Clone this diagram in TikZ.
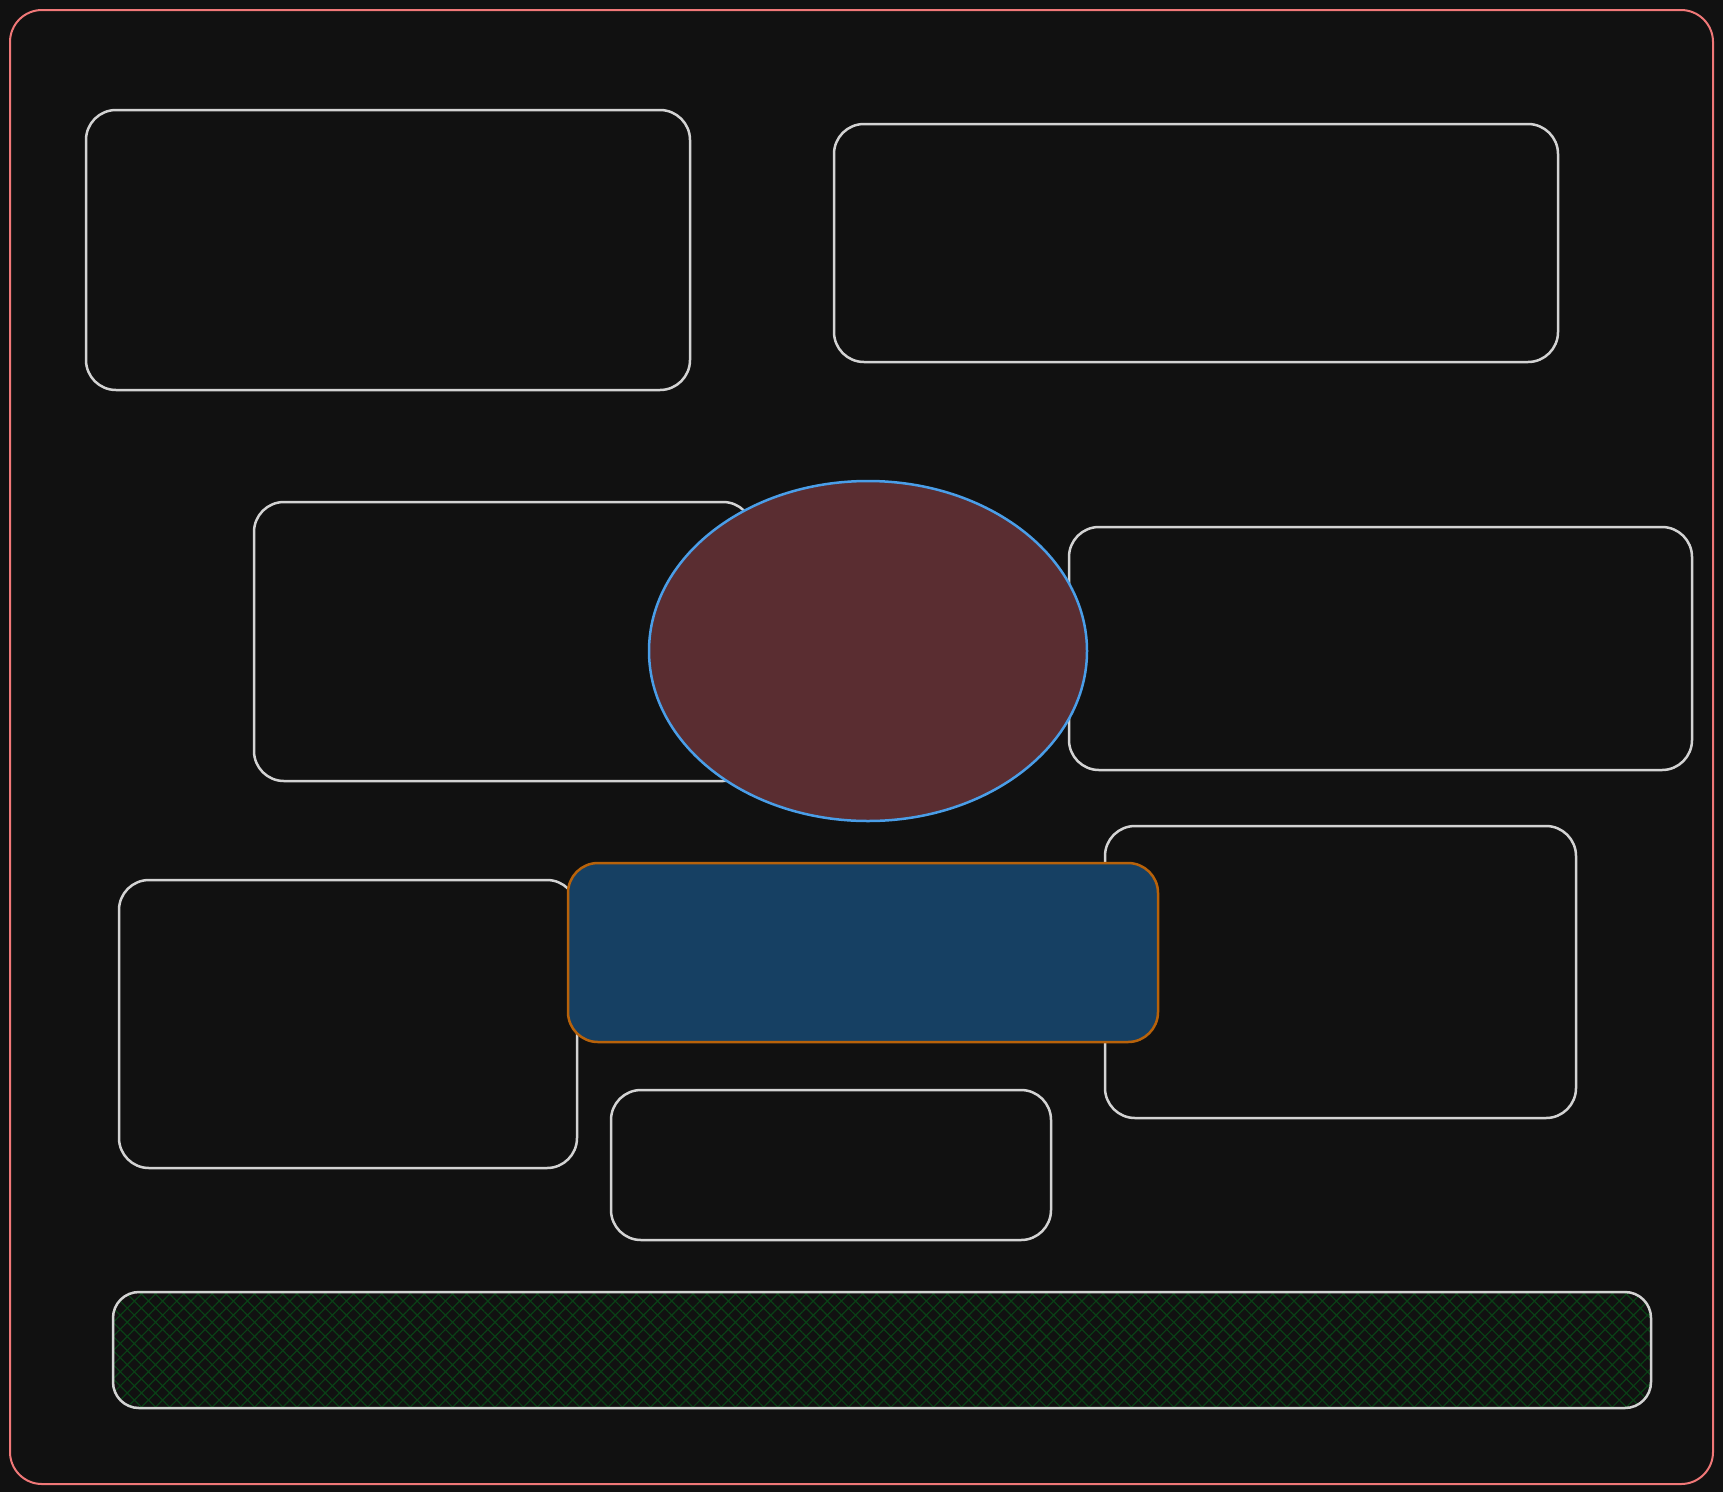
\documentclass[tikz,border=0pt]{standalone}
\usepackage{tikz}
\usetikzlibrary{shapes.geometric,patterns.meta}

\definecolor{canvas}{HTML}{111111}
\definecolor{outline}{HTML}{D3D3D3}
\definecolor{frameline}{HTML}{F07878}
\definecolor{bubble}{HTML}{5A2D31}
\definecolor{bubbleline}{HTML}{4A9EE8}
\definecolor{panel}{HTML}{164063}
\definecolor{panelline}{HTML}{B8620A}
\definecolor{hatchgreen}{HTML}{0A4016}

\tikzset{
  box/.style={draw=outline,line width=2.5pt,rectangle,rounded corners=30pt,fill=canvas},
  frame/.style={draw=frameline,line width=2pt,rectangle,rounded corners=32pt},
  bubble/.style={draw=bubbleline,line width=2.5pt,ellipse,fill=bubble},
  panel/.style={draw=panelline,line width=2.5pt,rectangle,rounded corners=30pt,fill=panel},
  band/.style={draw=outline,line width=2.5pt,rectangle,rounded corners=26pt,
    pattern={Hatch[angle=45,distance=10pt,line width=1.2pt]},pattern color=hatchgreen}
}

\begin{document}
\begin{tikzpicture}[x=1pt,y=-1pt]
    \fill[canvas] (0,0) rectangle (1723,1492);
    \useasboundingbox (0,0) rectangle (1723,1492);

    \node[frame,minimum width=1703pt,minimum height=1474pt] (frame) at (861.5,747) {};

    % outlined boxes
    \node[box,minimum width=604pt,minimum height=280pt] (topleft) at (388,250) {};
    \node[box,minimum width=724pt,minimum height=238pt] (topright) at (1196,243) {};
    \node[box,minimum width=499pt,minimum height=279pt] (midleft) at (503.5,641.5) {};
    \node[box,minimum width=623pt,minimum height=243pt] (midright) at (1380.5,648.5) {};
    \node[box,minimum width=471pt,minimum height=292pt] (lowright) at (1340.5,972) {};
    \node[box,minimum width=458pt,minimum height=288pt] (lowleft) at (348,1024) {};
    \node[box,minimum width=440pt,minimum height=150pt] (lowmid) at (831,1165) {};

    % filled shapes on top
    \node[bubble,minimum width=438pt,minimum height=340pt,inner sep=0pt] (centre) at (868,651) {};
    \node[panel,minimum width=590pt,minimum height=179pt] (core) at (863,952.5) {};
    \node[band,minimum width=1538pt,minimum height=116pt] (base) at (882,1350) {};

\end{tikzpicture}
\end{document}
